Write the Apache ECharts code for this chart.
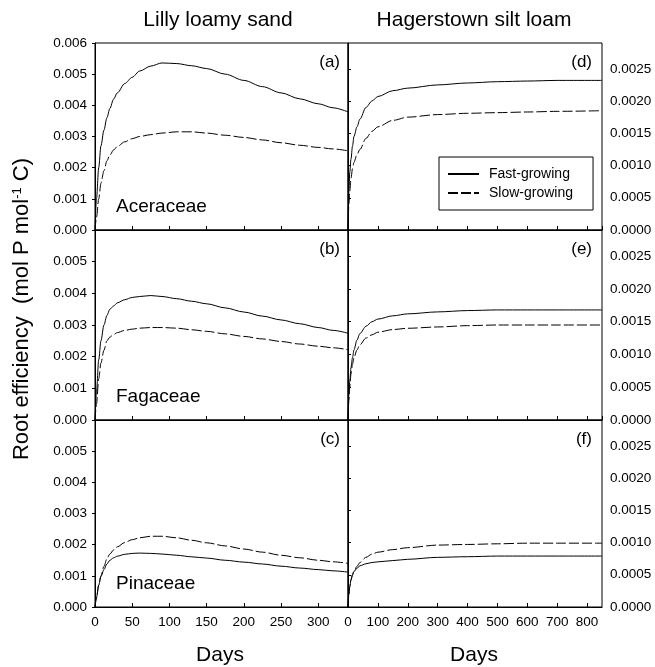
<!DOCTYPE html>
<html>
<head>
<meta charset="utf-8">
<script src="https://cdn.jsdelivr.net/npm/echarts@6/dist/echarts.min.js"></script>
<style>html,body{margin:0;padding:0;background:#fff;}#c{width:655px;height:667px;}</style>
</head>
<body>
<div id="c"></div>
<script>
// ---- data ----
const soilTitles = ['Lilly loamy sand', 'Hagerstown silt loam'];
const familyNames = ['Aceraceae', 'Fagaceae', 'Pinaceae'];
const panelTags = ['(a)', '(b)', '(c)', '(d)', '(e)', '(f)'];
const seriesNames = ['Fast-growing', 'Slow-growing'];

const leftDays  = [0, 2, 5, 8, 12, 16, 20, 25, 30, 40, 50, 60, 75, 90, 110, 130, 150, 175, 200, 225, 250, 275, 300, 320, 340];
const aFast = [0, 0.0010, 0.0020, 0.0027, 0.0032, 0.0036, 0.0039, 0.0042, 0.0044, 0.0047, 0.0049, 0.0051, 0.00526, 0.00536, 0.00534, 0.00527, 0.00518, 0.00500, 0.00480, 0.00460, 0.00440, 0.00421, 0.00405, 0.00392, 0.00379];
const aSlow = [0, 0.0004, 0.0010, 0.0015, 0.0019, 0.00222, 0.0024, 0.00257, 0.00268, 0.00283, 0.00293, 0.00300, 0.00306, 0.00311, 0.00315, 0.00315, 0.00311, 0.00304, 0.00297, 0.00289, 0.00280, 0.00272, 0.00265, 0.00260, 0.00254];
const bFast = [0, 0.0009, 0.0019, 0.0025, 0.0030, 0.0033, 0.0035, 0.0036, 0.0037, 0.0038, 0.00387, 0.0039, 0.00393, 0.0039, 0.00383, 0.00375, 0.00367, 0.00354, 0.00341, 0.00328, 0.00316, 0.00304, 0.00292, 0.00283, 0.00274];
const bSlow = [0, 0.0005, 0.0013, 0.0018, 0.0022, 0.0025, 0.00262, 0.0027, 0.00276, 0.00283, 0.00287, 0.0029, 0.00292, 0.00292, 0.0029, 0.00285, 0.0028, 0.00272, 0.00264, 0.00256, 0.00248, 0.0024, 0.00233, 0.00228, 0.00222];
const cFast = [0, 0.0003, 0.0007, 0.00098, 0.0012, 0.00138, 0.0015, 0.00158, 0.00163, 0.00169, 0.00172, 0.00173, 0.00172, 0.0017, 0.00166, 0.00161, 0.00157, 0.0015, 0.00144, 0.00138, 0.00131, 0.00125, 0.0012, 0.00116, 0.00112];
const cSlow = [0, 0.0003, 0.0007, 0.0010, 0.0013, 0.00155, 0.0017, 0.00183, 0.00193, 0.00207, 0.00216, 0.00222, 0.00227, 0.00227, 0.00222, 0.00214, 0.00206, 0.00196, 0.00186, 0.00176, 0.00166, 0.00158, 0.0015, 0.00145, 0.0014];

const rightDays = [0, 3, 6, 10, 15, 20, 30, 40, 60, 80, 100, 150, 200, 300, 400, 500, 600, 700, 850];
const dFast = [0, 0.0006, 0.0009, 0.0011, 0.0013, 0.00145, 0.0016, 0.00172, 0.0019, 0.0020, 0.00207, 0.00216, 0.0022, 0.00225, 0.00228, 0.0023, 0.00231, 0.00232, 0.00232];
const dSlow = [0, 0.0004, 0.0006, 0.0008, 0.00095, 0.00105, 0.00117, 0.00125, 0.00142, 0.00153, 0.0016, 0.0017, 0.00175, 0.00179, 0.00181, 0.00182, 0.00183, 0.00184, 0.00185];
const eFast = [0, 0.0004, 0.0006, 0.0008, 0.00095, 0.00107, 0.00122, 0.00132, 0.00143, 0.0015, 0.00154, 0.00159, 0.00162, 0.00165, 0.00167, 0.00168, 0.00168, 0.00168, 0.00168];
const eSlow = [0, 0.0003, 0.0005, 0.0007, 0.00085, 0.00095, 0.00107, 0.00115, 0.00125, 0.0013, 0.00134, 0.00138, 0.0014, 0.00142, 0.00144, 0.00145, 0.00145, 0.00145, 0.00145];
const fFast = [0, 0.0002, 0.00032, 0.00042, 0.0005, 0.00055, 0.0006, 0.00064, 0.00067, 0.00069, 0.0007, 0.00072, 0.00074, 0.00077, 0.00078, 0.00079, 0.00079, 0.00079, 0.00079];
const fSlow = [0, 0.0002, 0.00032, 0.00042, 0.0005, 0.00056, 0.00063, 0.00069, 0.00077, 0.00082, 0.00085, 0.00089, 0.00092, 0.00096, 0.00097, 0.00098, 0.00099, 0.00099, 0.00099];

// ---- layout ----
const FONT = 'Arial, "Liberation Sans", Helvetica, sans-serif';
const colLeft = [95, 348];
const colWidth = [253, 254];
const rowTop = [43, 230, 420];
const rowHeight = [187, 190, 187];

const panels = [
  {col: 0, row: 0, days: leftDays, fast: aFast, slow: aSlow},
  {col: 0, row: 1, days: leftDays, fast: bFast, slow: bSlow},
  {col: 0, row: 2, days: leftDays, fast: cFast, slow: cSlow},
  {col: 1, row: 0, days: rightDays, fast: dFast, slow: dSlow},
  {col: 1, row: 1, days: rightDays, fast: eFast, slow: eSlow},
  {col: 1, row: 2, days: rightDays, fast: fFast, slow: fSlow}
];

const grids = [], xAxes = [], yAxes = [], series = [], graphics = [];
const zip = (xs, ys) => xs.map((x, i) => [x, ys[i]]);

panels.forEach((p, i) => {
  grids.push({left: colLeft[p.col], top: rowTop[p.row], width: colWidth[p.col], height: rowHeight[p.row],
    show: true, borderColor: '#000', borderWidth: 1, backgroundColor: 'transparent', containLabel: false});
  const isLeft = p.col === 0;
  xAxes.push({
    type: 'value', gridIndex: i, min: 0, max: isLeft ? 340 : 850, interval: isLeft ? 50 : 100,
    axisLine: {show: true, lineStyle: {color: '#000', width: 1}},
    axisTick: {show: true, inside: true, length: 4, lineStyle: {color: '#000'}},
    axisLabel: {show: p.row === 2, showMaxLabel: false, color: '#000', fontFamily: FONT, fontSize: 13.5, margin: 8},
    splitLine: {show: false}
  });
  yAxes.push({
    type: 'value', gridIndex: i, min: 0, max: isLeft ? 0.006 : 0.0029, interval: isLeft ? 0.001 : 0.0005,
    position: isLeft ? 'left' : 'right',
    axisLine: {show: true, lineStyle: {color: '#000', width: 1}},
    axisTick: {show: true, inside: false, length: 3, lineStyle: {color: '#000'}},
    axisLabel: {color: '#000', fontFamily: FONT, fontSize: 13.5, margin: 8,
      showMaxLabel: isLeft ? p.row === 0 : false,
      formatter: v => v.toFixed(isLeft ? 3 : 4)},
    splitLine: {show: false}
  });
  series.push({
    name: seriesNames[0], type: 'line', xAxisIndex: i, yAxisIndex: i, data: zip(p.days, p.fast),
    symbol: 'none', showSymbol: false, smooth: 0.3, smoothMonotone: 'x', clip: true,
    lineStyle: {color: '#000', width: 1, type: 'solid'}, itemStyle: {color: '#000'}
  });
  series.push({
    name: seriesNames[1], type: 'line', xAxisIndex: i, yAxisIndex: i, data: zip(p.days, p.slow),
    symbol: 'none', showSymbol: false, smooth: 0.3, smoothMonotone: 'x', clip: true,
    lineStyle: {color: '#000', width: 1, type: [10, 3]}, itemStyle: {color: '#000'}
  });
  // panel tag
  graphics.push({type: 'text', right: 655 - (colLeft[p.col] + colWidth[p.col] - (isLeft ? 8 : 10)),
    top: rowTop[p.row] + 11,
    style: {text: panelTags[i], font: '17px ' + FONT, fill: '#000', textAlign: 'right'}});
  if (isLeft) {
    graphics.push({type: 'text', left: 116, top: rowTop[p.row] + rowHeight[p.row] - 33,
      style: {text: familyNames[p.row], font: '19px ' + FONT, fill: '#000'}});
  }
});

// column titles
graphics.push({type: 'text', x: 218, y: 20, style: {text: soilTitles[0], font: '21px ' + FONT, fill: '#000', align: 'center', verticalAlign: 'middle'}});
graphics.push({type: 'text', x: 474, y: 20, style: {text: soilTitles[1], font: '21px ' + FONT, fill: '#000', align: 'center', verticalAlign: 'middle'}});
// x titles
graphics.push({type: 'text', x: 220, y: 655, style: {text: 'Days', font: '21px ' + FONT, fill: '#000', align: 'center', verticalAlign: 'middle'}});
graphics.push({type: 'text', x: 474, y: 655, style: {text: 'Days', font: '21px ' + FONT, fill: '#000', align: 'center', verticalAlign: 'middle'}});
// y title
graphics.push({type: 'text', x: 22, y: 309, rotation: Math.PI / 2,
  style: {text: 'Root efficiency  (mol P mol{sup|-1} C)', fill: '#000', align: 'center', verticalAlign: 'middle',
    font: '22px ' + FONT,
    rich: {sup: {fontSize: 13, fontFamily: FONT, fill: '#000', verticalAlign: 'top', padding: [0, 0, 10, 0]}}}});

const chart = echarts.init(document.getElementById('c'), null, {renderer: 'canvas'});
chart.setOption({
  animation: false,
  backgroundColor: '#fff',
  grid: grids, xAxis: xAxes, yAxis: yAxes, series: series,
  legend: {
    data: seriesNames, orient: 'vertical', left: 439, top: 157,
    padding: [10, 20, 10, 8], itemGap: 5, itemWidth: 31, itemHeight: 14,
    itemStyle: {color: 'rgba(0,0,0,0)', borderWidth: 0, opacity: 0},
    borderColor: '#000', borderWidth: 1, borderRadius: 0, backgroundColor: '#fff',
    textStyle: {color: '#000', fontFamily: FONT, fontSize: 14, padding: [0, 0, 0, 5]},
    selectedMode: false
  },
  graphic: graphics
});
</script>
</body>
</html>
